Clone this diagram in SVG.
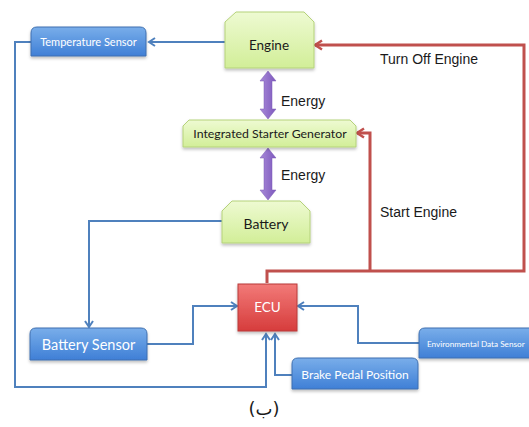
<svg xmlns="http://www.w3.org/2000/svg" width="529" height="427" viewBox="0 0 529 427">
<defs>
<linearGradient id="gG" x1="0" y1="0" x2="0" y2="1"><stop offset="0" stop-color="#eefad2"/><stop offset="1" stop-color="#d2ee98"/></linearGradient>
<linearGradient id="gB" x1="0" y1="0" x2="0" y2="1"><stop offset="0" stop-color="#79aeea"/><stop offset="1" stop-color="#3f7fd6"/></linearGradient>
<linearGradient id="gR" x1="0" y1="0" x2="0" y2="1"><stop offset="0" stop-color="#f27a78"/><stop offset="1" stop-color="#d63c3c"/></linearGradient>
<linearGradient id="gP" x1="0" y1="0" x2="1" y2="0"><stop offset="0" stop-color="#a88ad8"/><stop offset="1" stop-color="#7d58bd"/></linearGradient>
<filter id="sh" x="-10%" y="-10%" width="120%" height="140%"><feDropShadow dx="0" dy="2" stdDeviation="1.5" flood-color="#000" flood-opacity="0.25"/></filter>
<marker id="aB" markerWidth="10" markerHeight="10" refX="8" refY="5" orient="auto" markerUnits="userSpaceOnUse"><polyline points="2,1 8,5 2,9" fill="none" stroke="#4f81bd" stroke-width="2"/></marker>
<marker id="aR" markerWidth="12" markerHeight="12" refX="9" refY="6" orient="auto" markerUnits="userSpaceOnUse"><polyline points="2,1.5 9,6 2,10.5" fill="none" stroke="#c0504d" stroke-width="2.5"/></marker>
</defs>
<style>
.g{fill:url(#gG);stroke:#b5d27a;stroke-width:1;filter:url(#sh)}
.b{fill:url(#gB);stroke:#3e6fb0;stroke-width:1;filter:url(#sh)}
.r{fill:url(#gR);stroke:#b83a38;stroke-width:1;filter:url(#sh)}
.tk{font-family:Lato,"Open Sans",sans-serif;fill:#1a1a1a;text-anchor:middle}
.tw{font-family:Lato,"Open Sans",sans-serif;fill:#ffffff;text-anchor:middle}
.lb{font-family:"Liberation Sans",Arial,sans-serif;fill:#1a1a1a;font-size:14px}
.cb{fill:none;stroke:#4f81bd;stroke-width:2}
.cr{fill:none;stroke:#c0504d;stroke-width:3}
.en{fill:url(#gP);stroke:#7a5ab5;stroke-width:0.5}
</style>
<g id="connectors">
<polyline class="cb" points="225,42 149,42" marker-end="url(#aB)"/>
<polyline class="cb" points="31,42 15,42 15,387 266,387 266,334" marker-end="url(#aB)"/>
<polyline class="cb" points="292,375 275,375 275,334" marker-end="url(#aB)"/>
<polyline class="cb" points="222,221 89,221 89,327" marker-end="url(#aB)"/>
<polyline class="cb" points="147,344 193,344 193,306 237,306" marker-end="url(#aB)"/>
<polyline class="cb" points="419,343 358,343 358,306 298,306" marker-end="url(#aB)"/>
<polyline class="cr" points="267,283 267,271 524,271 524,45 315,45" marker-end="url(#aR)"/>
<polyline class="cr" points="370,271 370,133 357,133" marker-end="url(#aR)"/>
<path class="en" d="M268,71 L276,81 L272,81 L272,109 L276,109 L268,119 L260,109 L264,109 L264,81 L260,81 Z"/>
<path class="en" d="M268,148 L276,158 L272,158 L272,190 L276,190 L268,200 L260,190 L264,190 L264,158 L260,158 Z"/>
<text class="lb" x="281" y="106">Energy</text>
<text class="lb" x="281" y="180">Energy</text>
<text class="lb" x="380" y="64">Turn Off Engine</text>
<text class="lb" x="380" y="217">Start Engine</text>
</g>
<g id="engine">
<path class="g" d="M225,22 L236,12 L304,12 L314,22 L314,68 L225,68 Z"/>
<text class="tk" x="269" y="50" font-size="13.5">Engine</text>
</g>
<g id="isg">
<path class="g" d="M183,126 L189,120 L350,120 L356,126 L356,147 L183,147 Z"/>
<text class="tk" x="270" y="138" font-size="12.3">Integrated Starter Generator</text>
</g>
<g id="battery">
<path class="g" d="M222,211 L232,201 L300,201 L310,211 L310,243 L222,243 Z"/>
<text class="tk" x="266" y="229" font-size="14">Battery</text>
</g>
<g id="ecu">
<rect class="r" x="238" y="284" width="59" height="47"/>
<text class="tw" x="267.5" y="312" font-size="13.5">ECU</text>
</g>
<g id="temp-sensor">
<path class="b" d="M31,56 L31,33 Q31,27 37,27 L140,27 Q146,27 146,33 L146,56 Z"/>
<text class="tw" x="88.5" y="45.5" font-size="11">Temperature Sensor</text>
</g>
<g id="battery-sensor">
<path class="b" d="M30,360 L30,334 Q30,328 36,328 L141,328 Q147,328 147,334 L147,360 Z"/>
<text class="tw" x="88.5" y="349.5" font-size="14.5">Battery Sensor</text>
</g>
<g id="brake-pedal">
<path class="b" d="M292,389 L292,364 Q292,358 298,358 L412,358 Q418,358 418,364 L418,389 Z"/>
<text class="tw" x="355" y="379" font-size="12">Brake Pedal Position</text>
</g>
<g id="env-sensor">
<path class="b" d="M419,358 L419,334 Q419,328 425,328 L540,328 L540,358 Z"/>
<text class="tw" x="427" y="346.5" font-size="8.2" style="text-anchor:start">Environmental Data Sensor</text>
</g>
<text x="264" y="415" font-family="'DejaVu Sans','Noto Sans',sans-serif" font-size="18" fill="#1a1a1a" text-anchor="middle">(ب)</text>
</svg>
